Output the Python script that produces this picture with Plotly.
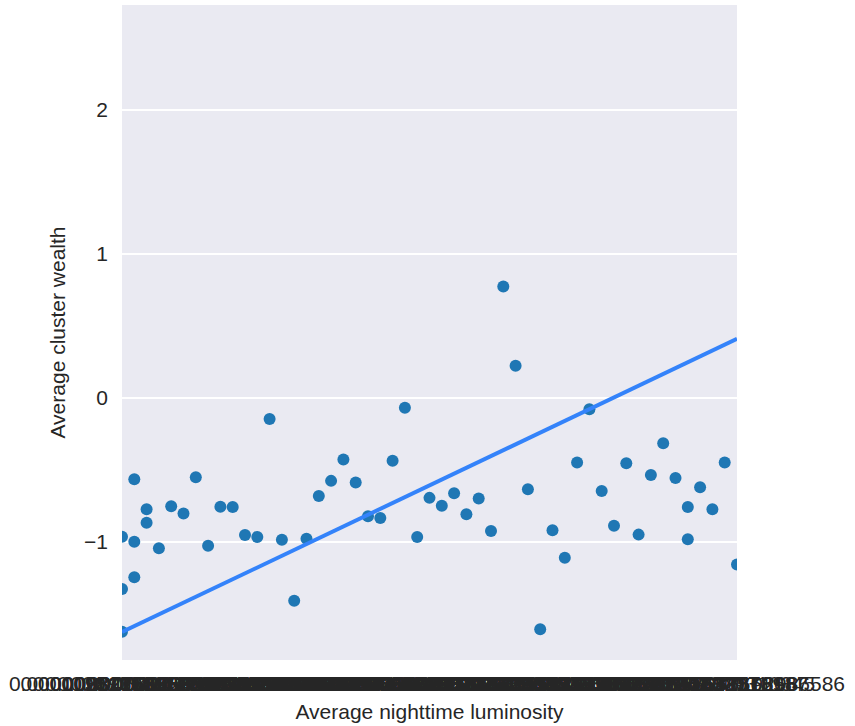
import plotly.graph_objects as go

# Average nighttime luminosity per cluster group (string categories, ascending)
lum_labels = [
    "0.000109890109890110", "0.000135135135135135", "0.000212765957446809",
    "0.000322580645161290", "0.000416666666666667", "0.000588235294117647",
    "0.000714285714285714", "0.000909090909090909", "0.00114942528735632",
    "0.00138888888888889", "0.00163934426229508", "0.00192307692307692",
    "0.00232558139534884", "0.00270270270270270", "0.00312500000000000",
    "0.00363636363636364", "0.00425531914893617", "0.00500000000000000",
    "0.00588235294117647", "0.00689655172413793", "0.00806451612903226",
    "0.00934579439252336", "0.0108695652173913", "0.0126582278481013",
    "0.0147058823529412", "0.0172413793103448", "0.0201612903225806",
    "0.0238095238095238", "0.0280898876404494", "0.0333333333333333",
    "0.0394736842105263", "0.0465116279069767", "0.0555555555555556",
    "0.0660377358490566", "0.0789473684210526", "0.0943396226415094",
    "0.112903225806452", "0.135135135135135", "0.161764705882353",
    "0.193548387096774", "0.232142857142857", "0.277777777777778",
    "0.333333333333333", "0.400000000000000", "0.478260869565217",
    "0.571428571428571", "0.684210526315789", "0.818181818181818",
    "0.979166666666667", "1.17241379310345", "1.40350877192986586",
]

# Cluster observations: category index into lum_labels and average wealth
obs_index = [
    0, 0, 0, 1, 1, 1, 2, 2, 3, 4, 5, 6, 7, 8, 9, 10, 11, 12, 13, 14, 15,
    16, 17, 18, 19, 20, 21, 22, 23, 24, 25, 26, 27, 28, 29, 30, 31, 32,
    33, 34, 35, 36, 37, 38, 39, 40, 41, 42, 43, 44, 45, 46, 46, 47, 48,
    49, 50,
]
obs_wealth = [
    -0.963, -1.326, -1.623, -0.565, -0.998, -1.245, -0.773, -0.866,
    -1.044, -0.752, -0.803, -0.551, -1.026, -0.755, -0.757, -0.951,
    -0.965, -0.146, -0.984, -1.408, -0.977, -0.681, -0.576, -0.428,
    -0.588, -0.822, -0.833, -0.437, -0.069, -0.965, -0.694, -0.748,
    -0.662, -0.808, -0.699, -0.924, 0.773, 0.222, -0.634, -1.606,
    -0.919, -1.109, -0.449, -0.079, -0.646, -0.887, -0.454, -0.949,
    -0.535, -0.315, -0.556, -0.757, -0.981, -0.620, -0.773, -0.449,
    -1.157,
]

# Fitted trend evaluated at the first and last luminosity category
trend_wealth = [-1.625, 0.41]

FONT = "Liberation Sans, Arial, sans-serif"
TEXT = "#262626"
FS = 21

fig = go.Figure()
fig.add_trace(go.Scatter(
    x=[lum_labels[i] for i in obs_index],
    y=obs_wealth,
    mode="markers",
    marker=dict(color="#1f77b4", size=12, line=dict(width=0)),
    cliponaxis=True,
    showlegend=False,
))
fig.add_trace(go.Scatter(
    x=[lum_labels[0], lum_labels[-1]],
    y=trend_wealth,
    mode="lines",
    line=dict(color="#3483fa", width=4),
    showlegend=False,
))

fig.update_layout(
    width=855, height=726,
    margin=dict(l=122, r=118, t=5, b=66),
    paper_bgcolor="white",
    plot_bgcolor="#eaeaf2",
    font=dict(family=FONT, size=FS, color=TEXT),
    xaxis=dict(
        type="category",
        categoryorder="array",
        categoryarray=lum_labels,
        tickmode="array",
        tickvals=lum_labels,
        ticktext=lum_labels,
        tickangle=0,
        range=[0, len(lum_labels) - 1],
        showgrid=False,
        zeroline=False,
        showline=False,
        ticks="",
        ticklabelstandoff=9,
        automargin=False,
        tickfont=dict(size=FS, color=TEXT),
        title=dict(text="Average nighttime luminosity", standoff=10,
                   font=dict(size=FS, color=TEXT)),
    ),
    yaxis=dict(
        range=[-1.819, 2.726],
        tickvals=[-1, 0, 1, 2],
        ticktext=["\u22121", "0", "1", "2"],
        showgrid=True,
        gridcolor="white",
        gridwidth=1.5,
        zeroline=False,
        showline=False,
        ticks="",
        ticklabelstandoff=13,
        automargin=False,
        tickfont=dict(size=FS, color=TEXT),
        title=dict(text="Average cluster wealth", standoff=12,
                   font=dict(size=FS, color=TEXT)),
    ),
)

fig.write_html("out.html")
